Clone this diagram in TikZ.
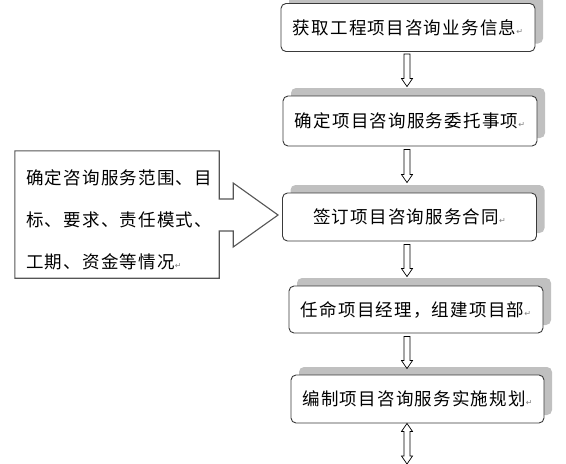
\documentclass[tikz,border=0pt]{standalone}
\usepackage{fontspec}
\newfontfamily\cjkls[LetterSpace=7]{Noto Sans CJK SC}
\newfontfamily\dvs{DejaVu Sans}
\usetikzlibrary{shadows,calc}
\definecolor{shadowgray}{HTML}{C0C0C0}
\definecolor{edgegray}{HTML}{3A3A3A}
\definecolor{calloutgray}{HTML}{555555}
\newcommand{\pmark}{{\dvs\fontsize{8}{8}\selectfont\textcolor{gray}{↵}}}
\newcommand{\boxfont}{\fontsize{17.5}{20}\cjkls}
\newcommand{\leftfont}{\fontsize{17.5}{42}\cjkls}
\tikzset{
  stepbox/.style={draw=edgegray, line width=0.9pt, rounded corners=5pt, fill=white,
    minimum width=254pt, minimum height=48pt, inner sep=0pt, font=\boxfont,
    drop shadow={shadow xshift=8pt, shadow yshift=8pt, fill=shadowgray, opacity=1}},
  hollow/.style={draw=black, line width=0.7pt, fill=white, to path={
    let \p1=(\tikztostart), \p2=(\tikztotarget) in
    (\x1-3pt,\y1) -- (\x1-3pt,\y2+8pt) -- (\x1-5.5pt,\y2+8pt) -- (\x1,\y2)
    -- (\x1+5.5pt,\y2+8pt) -- (\x1+3pt,\y2+8pt) -- (\x1+3pt,\y1) -- cycle}},
  hollowboth/.style={draw=black, line width=0.7pt, fill=white, to path={
    let \p1=(\tikztostart), \p2=(\tikztotarget) in
    (\x1,\y1) -- (\x1+5.5pt,\y1-8pt) -- (\x1+3pt,\y1-8pt) -- (\x1+3pt,\y2+8pt)
    -- (\x1+5.5pt,\y2+8pt) -- (\x1,\y2) -- (\x1-5.5pt,\y2+8pt) -- (\x1-3pt,\y2+8pt)
    -- (\x1-3pt,\y1-8pt) -- (\x1-5.5pt,\y1-8pt) -- cycle}},
  callout/.style={draw=calloutgray, line width=1.1pt, fill=white},
  lefttext/.style={align=left, inner sep=0pt, anchor=west, font=\leftfont}
}
\begin{document}
\begin{tikzpicture}[x=1pt,y=-1pt]
\useasboundingbox (0,0) rectangle (566,464);
% step boxes
\node[stepbox] (b1) at (408,27.5) {获取工程项目咨询业务信息\pmark};
\node[stepbox, minimum height=50pt] (b2) at (410,121) {确定项目咨询服务委托事项\pmark};
\node[stepbox] (b3) at (409.5,217) {签订项目咨询服务合同\pmark};
\node[stepbox, minimum height=47pt] (b4) at (416,309.5) {任命项目经理，组建项目部\pmark};
\node[stepbox, minimum width=253pt] (b5) at (417.5,399) {编制项目咨询服务实施规划\pmark};
% arrow axis
\coordinate (ax) at (407,0);
\coordinate (bottom) at (407,464);
\draw[hollow] ($(b1.south -| ax)+(0,2)$) to ($(b2.north -| ax)+(0,-9)$);
\draw[hollow] ($(b2.south -| ax)+(0,3)$) to ($(b3.north -| ax)+(0,-10)$);
\draw[hollow] ($(b3.south -| ax)+(0,3)$) to ($(b4.north -| ax)+(0,-9)$);
\draw[hollow] ($(b4.south -| ax)+(0,3)$) to ($(b5.north -| ax)+(0,-6)$);
\draw[hollowboth] (b5.south -| ax) to (bottom);
% left callout
\node[minimum width=204pt, minimum height=127pt, inner sep=0pt] (lbox) at (117,214.5) {};
\draw[callout] (lbox.north west) -- (lbox.north east) -- ($(lbox.east)+(0,-15.5)$)
  -- ($(lbox.east)+(14,-15.5)$) -- ($(lbox.east)+(14,-31.5)$)
  -- ($(b3.west)+(-4,-2)$)
  -- ($(lbox.east)+(14,32.5)$) -- ($(lbox.east)+(14,16.5)$)
  -- ($(lbox.east)+(0,16.5)$) -- (lbox.south east) -- (lbox.south west) -- cycle;
\node[lefttext] (ltxt) at (26,220) {确定咨询服务范围、目\\标、要求、责任模式、\\工期、资金等情况\pmark};
\end{tikzpicture}
\end{document}
